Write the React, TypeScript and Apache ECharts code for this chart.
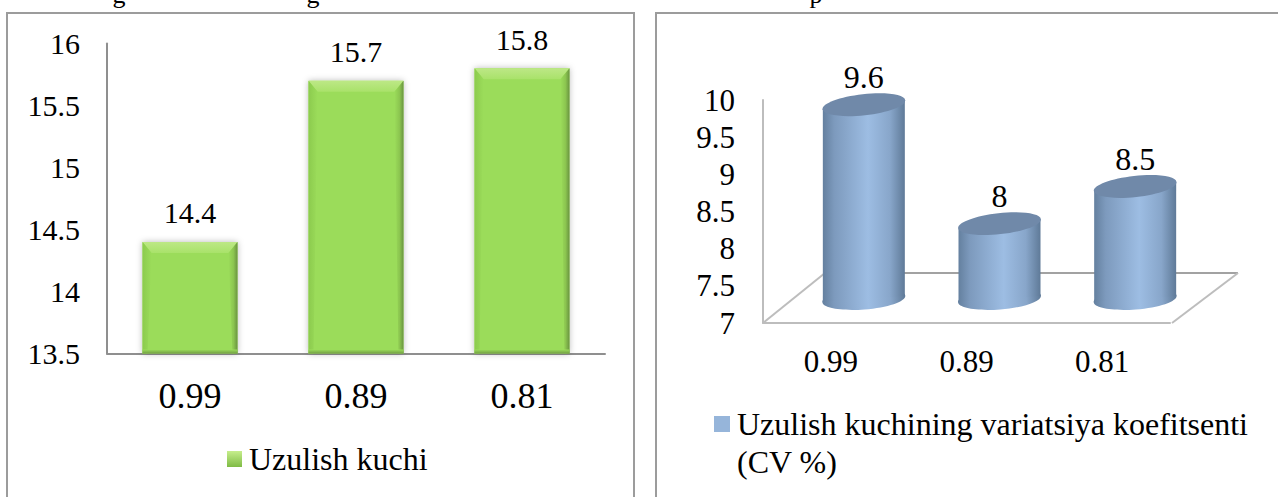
import React, { useEffect, useRef } from "react";
import * as echarts from "echarts";

const SERIF = '"Liberation Serif", "Times New Roman", serif';

const categories = ["0.99", "0.89", "0.81"];
const strengthValues = [14.4, 15.7, 15.8];
const cvValues = [9.6, 8, 8.5];
const strengthName = "Uzulish kuchi";
const cvLegendLines = ["Uzulish kuchining variatsiya koefitsenti", "(CV %)"];
const cvName = cvLegendLines.join(" ");
const headingFragments = [
  { text: "g", x: 119 },
  { text: "g", x: 313 },
  { text: "p", x: 816 },
];

const vertical = (from: string, to: string) => ({
  type: "linear", x: 0, y: 0, x2: 0, y2: 1,
  colorStops: [{ offset: 0, color: from }, { offset: 1, color: to }],
});
const horizontal = (stops: [number, string][]) => ({
  type: "linear", x: 0, y: 0, x2: 1, y2: 0,
  colorStops: stops.map(([offset, color]) => ({ offset, color })),
});

// Bevelled highlights laid over each plain bar.
function renderBevel(_params: any, api: any) {
  const idx = api.value(0);
  const [cx, top] = api.coord([idx, api.value(1)]);
  const [, bottom] = api.coord([idx, 13.5]);
  const w = api.size([1, 0])[0] * 0.572;
  const x = cx - w / 2;
  const right = x + w;
  return {
    type: "group",
    children: [
      {
        type: "polygon",
        shape: { points: [[x, top], [right, top], [right - 9, top + 11], [x + 9, top + 11]] },
        style: { fill: vertical("#bde886", "#a9e26a") },
      },
      {
        type: "polygon",
        shape: { points: [[x, top], [x + 9, top + 11], [x + 5, bottom], [x, bottom]] },
        style: { fill: horizontal([[0, "#8ccb4e"], [1, "#9bdc5a"]]) },
      },
      {
        type: "polygon",
        shape: { points: [[right, top], [right - 9, top + 11], [right - 5, bottom], [right, bottom]] },
        style: { fill: horizontal([[0, "#9bdc5a"], [0.55, "#8cc650"], [1, "#6a9440"]]) },
      },
      {
        type: "rect",
        shape: { x, y: bottom - 4, width: w, height: 4 },
        style: { fill: vertical("#9bdc5a", "#72a043") },
      },
    ],
  };
}

// Tilted cylinders; the depth offsets place them on the receding floor.
function renderCylinder(_params: any, api: any) {
  const idx = api.value(0);
  const value = api.value(1);
  const depthX = 33;
  const depthY = 25;
  const [px, py] = api.coord([idx, value]);
  const [, baseY] = api.coord([idx, 7]);
  const cx = px + depthX;
  const top = py - depthY;
  const base = baseY - depthY + 1;
  const rx = 41;
  const side = horizontal([[0, "#64809f"], [0.14, "#7d9abd"], [0.55, "#9dbde3"], [0.82, "#88a6ca"], [1, "#5f7a98"]]);
  const ellipse = (cy: number, ry: number, tilt: number, fill: any) => ({
    type: "ellipse",
    x: cx,
    y: cy,
    rotation: tilt,
    shape: { cx: 0, cy: 0, rx: rx + 0.6, ry },
    style: { fill },
  });
  return {
    type: "group",
    children: [
      ellipse(base, 10.5, 0.08, side),
      {
        type: "polygon",
        shape: {
          points: [
            [cx - rx, top + 4.5],
            [cx + rx, top - 4.5],
            [cx + rx, base - 3],
            [cx - rx, base + 3],
          ],
        },
        style: { fill: side },
      },
      ellipse(top, 10.5, 0.11, "#7089a9"),
      {
        type: "text",
        x: cx,
        y: top - 28,
        style: {
          text: String(value),
          fill: "#000",
          font: `32px ${SERIF}`,
          align: "center",
          verticalAlign: "middle",
        },
      },
    ],
  };
}

function buildOption() {
  const frameStroke = { stroke: "#9c9c9c", lineWidth: 2, fill: "#fff" };
  const floorStroke = { stroke: "#bdbdbd", lineWidth: 2, fill: "none" };
  return {
    animation: false,
    backgroundColor: "#fff",
    graphic: [
      { type: "rect", z: -5, shape: { x: 7, y: 13, width: 627, height: 600 }, style: frameStroke },
      { type: "rect", z: -5, shape: { x: 656, y: 13, width: 700, height: 600 }, style: frameStroke },
      ...headingFragments.map((f) => ({
        type: "text",
        x: f.x,
        y: -19,
        style: { text: f.text, fill: "#000", font: `26px ${SERIF}`, align: "center" },
      })),
      {
        type: "polyline",
        shape: { points: [[763, 323], [825, 273]] },
        style: floorStroke,
      },
      {
        type: "line",
        shape: { x1: 825, y1: 273, x2: 1238, y2: 273 },
        style: { stroke: "#a2a2a2", lineWidth: 2 },
      },
      {
        type: "polyline",
        shape: { points: [[1238, 273], [1172, 323]] },
        style: floorStroke,
      },
      {
        type: "text",
        x: 737,
        y: 446,
        style: { text: cvLegendLines[1], fill: "#000", font: `32px ${SERIF}` },
      },
    ],
    grid: [
      { left: 107, top: 43.5, width: 498, height: 310 },
      { left: 763, top: 100, width: 407, height: 223 },
    ],
    xAxis: [
      {
        gridIndex: 0,
        type: "category",
        data: categories,
        axisTick: { show: false },
        axisLine: { show: true, lineStyle: { color: "#8f8f8f", width: 2 } },
        axisLabel: { color: "#000", fontFamily: SERIF, fontSize: 36, margin: 24 },
      },
      {
        gridIndex: 1,
        type: "category",
        data: categories,
        axisTick: { show: false },
        axisLine: { show: true, lineStyle: { color: "#bdbdbd", width: 2 } },
        axisLabel: { color: "#000", fontFamily: SERIF, fontSize: 31, margin: 23 },
      },
    ],
    yAxis: [
      {
        gridIndex: 0,
        type: "value",
        min: 13.5,
        max: 16,
        interval: 0.5,
        splitLine: { show: false },
        axisTick: { show: false },
        axisLine: { show: true, lineStyle: { color: "#8f8f8f", width: 2 } },
        axisLabel: { color: "#000", fontFamily: SERIF, fontSize: 30, margin: 27 },
      },
      {
        gridIndex: 1,
        type: "value",
        min: 7,
        max: 10,
        interval: 0.5,
        splitLine: { show: false },
        axisTick: { show: false },
        axisLine: { show: true, lineStyle: { color: "#bdbdbd", width: 2 } },
        axisLabel: {
          color: "#000",
          fontFamily: SERIF,
          fontSize: 31,
          margin: 28,
          padding: [4, 0, 0, 0],
        },
      },
    ],
    legend: [
      {
        data: [strengthName],
        left: 227,
        top: 443,
        icon: "rect",
        itemWidth: 15,
        itemHeight: 16,
        itemGap: 0,
        padding: 0,
        textStyle: { color: "#000", fontFamily: SERIF, fontSize: 32, padding: [0, 0, 0, 2] },
        itemStyle: { color: vertical("#c6ee8c", "#7fbb45") },
      },
      {
        data: [cvName],
        left: 714,
        top: 408,
        icon: "rect",
        itemWidth: 16,
        itemHeight: 16,
        itemGap: 0,
        padding: 0,
        formatter: () => cvLegendLines[0],
        textStyle: { color: "#000", fontFamily: SERIF, fontSize: 32, padding: [0, 0, 0, 2] },
        itemStyle: { color: "#96b5da" },
      },
    ],
    series: [
      {
        name: strengthName,
        type: "bar",
        xAxisIndex: 0,
        yAxisIndex: 0,
        data: strengthValues,
        barWidth: "57.2%",
        itemStyle: {
          color: "#9bdc5a",
          shadowColor: "rgba(0,0,0,0.28)",
          shadowBlur: 6,
        },
        label: {
          show: true,
          position: "top",
          distance: 14,
          color: "#000",
          fontFamily: SERIF,
          fontSize: 30,
        },
      },
      {
        type: "custom",
        xAxisIndex: 0,
        yAxisIndex: 0,
        z: 3,
        data: strengthValues.map((v, i) => [i, v]),
        encode: { x: 0, y: 1 },
        renderItem: renderBevel,
        silent: true,
      },
      {
        name: cvName,
        type: "custom",
        xAxisIndex: 1,
        yAxisIndex: 1,
        z: 3,
        clip: false,
        data: cvValues.map((v, i) => [i, v]),
        encode: { x: 0, y: 1 },
        renderItem: renderCylinder,
        itemStyle: { color: "#96b5da" },
      },
    ],
  };
}

export default function App() {
  const ref = useRef<HTMLDivElement>(null);
  useEffect(() => {
    const chart = echarts.init(ref.current!, null, { renderer: "svg" });
    chart.setOption(buildOption() as any);
    return () => chart.dispose();
  }, []);
  return (
    <div
      ref={ref}
      style={{ position: "absolute", left: 0, top: 0, width: 1278, height: 497, overflow: "hidden" }}
    />
  );
}
